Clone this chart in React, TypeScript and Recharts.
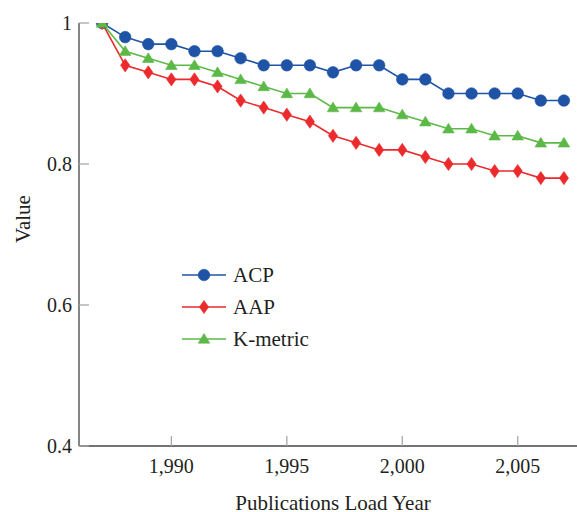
import React from 'react';
import { LineChart, Line, XAxis, YAxis, Legend, Label } from 'recharts';

const years = [1987, 1988, 1989, 1990, 1991, 1992, 1993, 1994, 1995, 1996, 1997, 1998, 1999, 2000, 2001, 2002, 2003, 2004, 2005, 2006, 2007];
const acp = [1.0, 0.98, 0.97, 0.97, 0.96, 0.96, 0.95, 0.94, 0.94, 0.94, 0.93, 0.94, 0.94, 0.92, 0.92, 0.90, 0.90, 0.90, 0.90, 0.89, 0.89];
const aap = [1.0, 0.94, 0.93, 0.92, 0.92, 0.91, 0.89, 0.88, 0.87, 0.86, 0.84, 0.83, 0.82, 0.82, 0.81, 0.80, 0.80, 0.79, 0.79, 0.78, 0.78];
const kmetric = [1.0, 0.96, 0.95, 0.94, 0.94, 0.93, 0.92, 0.91, 0.90, 0.90, 0.88, 0.88, 0.88, 0.87, 0.86, 0.85, 0.85, 0.84, 0.84, 0.83, 0.83];
const seriesNames = ['ACP', 'AAP', 'K-metric'];
const xTicks = [1990, 1995, 2000, 2005];
const yTicks = [0.4, 0.6, 0.8, 1];

const data = years.map((year, i) => ({ year, acp: acp[i], aap: aap[i], kmetric: kmetric[i] }));

const FONT = '"Liberation Serif", "DejaVu Serif", serif';
const TEXT = '#231f20';
const BLUE = '#1f53a6';
const RED = '#ec2a2c';
const GREEN = '#5cb947';
const AXIS = '#444';
const TICK = '#a8a8a8';

type Kind = 'circle' | 'diamond' | 'triangle';

function Marker({ kind, cx, cy, color }: { kind: Kind; cx: number; cy: number; color: string }) {
  if (cx == null || cy == null) return null;
  if (kind === 'circle') {
    return <circle cx={cx} cy={cy} r={5.8} fill={color} stroke={color} strokeWidth={0.6} />;
  }
  if (kind === 'diamond') {
    const w = 4.6, h = 6.6;
    return (
      <path
        d={`M${cx},${cy - h} L${cx + w},${cy} L${cx},${cy + h} L${cx - w},${cy} Z`}
        fill={color}
        stroke={color}
        strokeWidth={0.6}
      />
    );
  }
  const hw = 5.8;
  return (
    <path
      d={`M${cx},${cy - 5.5} L${cx + hw},${cy + 4.2} L${cx - hw},${cy + 4.2} Z`}
      fill={color}
      stroke={color}
      strokeWidth={0.6}
    />
  );
}

const kindByName: Record<string, Kind> = { ACP: 'circle', AAP: 'diamond', 'K-metric': 'triangle' };
const colorByName: Record<string, string> = { ACP: BLUE, AAP: RED, 'K-metric': GREEN };

const renderLegend = (props: any) => {
  const items = (props.payload || []).slice();
  items.sort((a: any, b: any) => seriesNames.indexOf(a.value) - seriesNames.indexOf(b.value));
  return (
    <svg width={150} height={90} style={{ display: 'block', overflow: 'visible' }}>
      {items.map((e: any, i: number) => {
        const y = 10 + i * 32;
        const color = colorByName[e.value] || e.color;
        return (
          <g key={e.value}>
            <line x1={0} x2={44} y1={y} y2={y} stroke={color} strokeWidth={1.6} />
            <Marker kind={kindByName[e.value]} cx={22} cy={y} color={color} />
            <text x={51} y={y} dy="0.35em" fontSize={21} fontFamily={FONT} fill={TEXT}>
              {e.value}
            </text>
          </g>
        );
      })}
    </svg>
  );
};

const tickStyle = { fontSize: 20, fill: TEXT, fontFamily: FONT };

export default function App() {
  return (
    <div style={{ position: 'fixed', left: 0, top: 0, width: 577, height: 512, overflow: 'hidden', background: '#fff' }}>
      <LineChart width={600} height={512} data={data} margin={{ top: 23, right: 13, bottom: 0, left: 0 }}>
        <XAxis
          dataKey="year"
          type="number"
          domain={[1986, 2008]}
          ticks={xTicks}
          interval={0}
          allowDataOverflow
          tickFormatter={(v: number) => v.toLocaleString('en-US')}
          tickSize={-10}
          tickMargin={23}
          height={66}
          axisLine={{ stroke: AXIS, strokeWidth: 1.3 }}
          tickLine={{ stroke: TICK, strokeWidth: 1.3 }}
          tick={tickStyle}
          label={
            <Label
              content={(p: any) => {
                const vb = p.viewBox || { x: 79, y: 446, width: 508, height: 66 };
                return (
                  <text x={vb.x + vb.width / 2} y={vb.y + vb.height - 2} textAnchor="middle" fontSize={21} fontFamily={FONT} fill={TEXT}>
                    Publications Load Year
                  </text>
                );
              }}
            />
          }
        />
        <XAxis
          xAxisId="top"
          orientation="top"
          dataKey="year"
          type="number"
          domain={[1986, 2008]}
          ticks={xTicks}
          interval={0}
          allowDataOverflow
          tickFormatter={() => ''}
          tickSize={-10}
          height={0}
          axisLine={{ stroke: AXIS, strokeWidth: 1.3 }}
          tickLine={{ stroke: TICK, strokeWidth: 1.3 }}
          tick={tickStyle}
        />
        <YAxis
          type="number"
          domain={[0.4, 1]}
          ticks={yTicks}
          interval={0}
          allowDataOverflow
          tickFormatter={(v: number) => String(v)}
          tickSize={-10}
          tickMargin={17}
          width={79}
          axisLine={{ stroke: AXIS, strokeWidth: 1.3 }}
          tickLine={{ stroke: TICK, strokeWidth: 1.3 }}
          tick={tickStyle}
          label={
            <Label
              content={(p: any) => {
                const vb = p.viewBox || { x: 0, y: 23, width: 79, height: 423 };
                const x0 = 30;
                const y0 = vb.y + vb.height / 2 - 15.5;
                return (
                  <text x={x0} y={y0} transform={`rotate(-90, ${x0}, ${y0})`} textAnchor="middle" fontSize={21} fontFamily={FONT} fill={TEXT}>
                    Value
                  </text>
                );
              }}
            />
          }
        />
        <YAxis
          yAxisId="right"
          orientation="right"
          type="number"
          domain={[0.4, 1]}
          ticks={yTicks}
          interval={0}
          allowDataOverflow
          tickFormatter={() => ''}
          tickSize={-10}
          width={0}
          axisLine={{ stroke: AXIS, strokeWidth: 1.3 }}
          tickLine={{ stroke: TICK, strokeWidth: 1.3 }}
          tick={tickStyle}
        />
        <Legend
          layout="vertical"
          align="center"
          verticalAlign="middle"
          content={renderLegend}
          wrapperStyle={{ position: 'absolute', left: 182, top: 265, width: 150, height: 90 }}
        />
        <Line
          name="ACP"
          dataKey="acp"
          stroke={BLUE}
          strokeWidth={1.6}
          isAnimationActive={false}
          dot={(p: any) => <Marker key={`a${p.index}`} kind="circle" cx={p.cx} cy={p.cy} color={BLUE} />}
          activeDot={false}
        />
        <Line
          name="AAP"
          dataKey="aap"
          stroke={RED}
          strokeWidth={1.6}
          isAnimationActive={false}
          dot={(p: any) => <Marker key={`b${p.index}`} kind="diamond" cx={p.cx} cy={p.cy} color={RED} />}
          activeDot={false}
        />
        <Line
          name="K-metric"
          dataKey="kmetric"
          stroke={GREEN}
          strokeWidth={1.6}
          isAnimationActive={false}
          dot={(p: any) => <Marker key={`c${p.index}`} kind="triangle" cx={p.cx} cy={p.cy} color={GREEN} />}
          activeDot={false}
        />
      </LineChart>
    </div>
  );
}
